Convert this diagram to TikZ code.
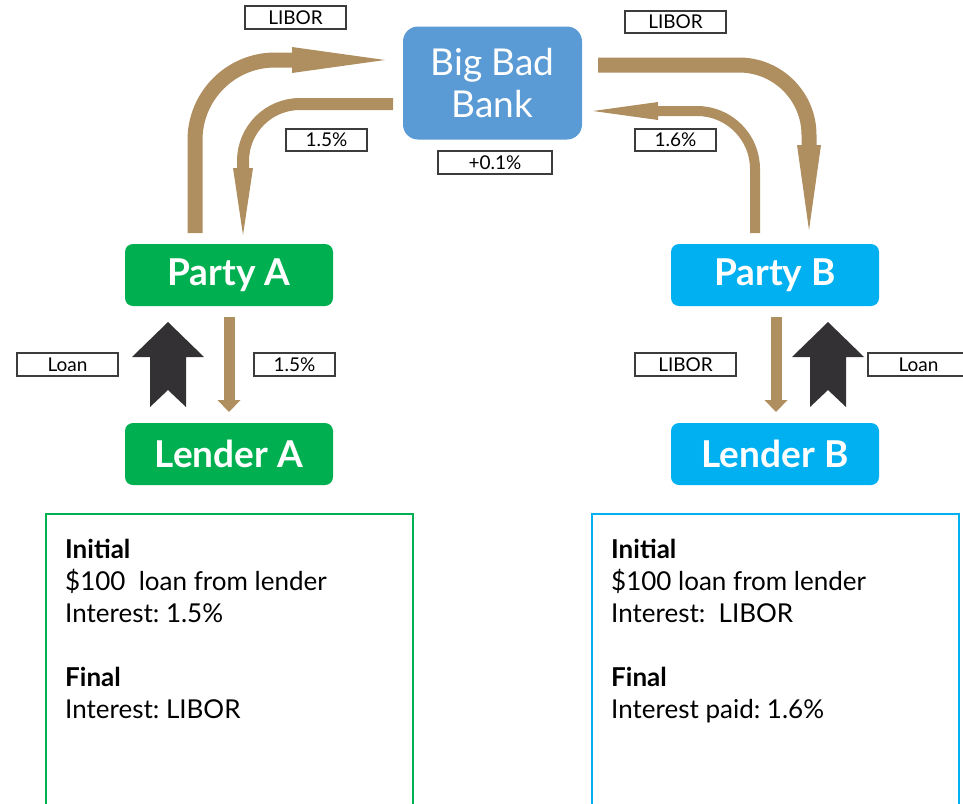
\documentclass[tikz,border=0pt]{standalone}
\usepackage{fontspec}
\setmainfont{Lato}
\frenchspacing
\usetikzlibrary{calc}
\definecolor{brn}{RGB}{175,142,96}
\definecolor{grn}{RGB}{0,176,80}
\definecolor{lblue}{RGB}{0,176,240}
\definecolor{bblue}{RGB}{91,155,213}
\definecolor{dark}{RGB}{51,49,52}
\definecolor{lblborder}{RGB}{60,60,60}
\tikzset{
  pbox/.style={rounded corners=8pt, minimum width=208pt, minimum height=62pt, text=white,
    font=\fontsize{37}{42}\selectfont\bfseries, inner sep=0pt},
  bankbox/.style={rounded corners=15pt, minimum width=179pt, minimum height=113pt, text=white,
    fill=bblue, font=\fontsize{37}{42}\selectfont, align=center, inner sep=0pt},
  lbl/.style={draw=lblborder, line width=1.3pt, fill=white, minimum height=22pt, inner sep=0pt,
    font=\fontsize{19}{22}\selectfont},
  flow/.style={draw=brn, line width=#1},
  head/.style={fill=brn},
  infotext/.style={anchor=base west, align=left, inner sep=0pt,
    font=\fontsize{26}{32}\selectfont},
  loanarrow/.style={fill=dark}
}
\begin{document}
\begin{tikzpicture}[x=1pt,y=-1pt]
\useasboundingbox (0,0) rectangle (963,803);

% main nodes
\node[bankbox] (bank) at (492.5,83) {Big Bad\\Bank};
\node[pbox, fill=grn] (pa) at (229,275) {Party A};
\node[pbox, fill=grn] (la) at (229,454) {Lender A};
\node[pbox, fill=lblue] (pb) at (775,275) {Party B};
\node[pbox, fill=lblue] (lb) at (775,454) {Lender B};

% curved flow: Party A -> Bank (LIBOR)
\coordinate (a1s) at (195,233);
\coordinate (a1b) at (292,60);
\coordinate (a1t) at (385,60);
\draw[flow=15pt, rounded corners=80pt] (a1s) -- (a1s |- a1b) -- ($(a1b)+(2,0)$);
\fill[head] ($(a1b)+(0,-13)$) -- (a1t) -- ($(a1b)+(0,13)$) -- cycle;

% Bank -> Party A (1.5%)
\coordinate (a2s) at (393,104);
\coordinate (a2b) at (243,168);
\coordinate (a2t) at (243,235);
\draw[flow=12pt, rounded corners=57pt] (a2s) -- (a2s -| a2b) -- ($(a2b)+(0,2)$);
\fill[head] ($(a2b)+(-10,0)$) -- (a2t) -- ($(a2b)+(10,0)$) -- cycle;

% Bank -> Party B (LIBOR)
\coordinate (a3s) at (598,65);
\coordinate (a3b) at (809,145);
\coordinate (a3t) at (809,230);
\draw[flow=15pt, rounded corners=70pt] (a3s) -- (a3s -| a3b) -- ($(a3b)+(0,2)$);
\fill[head] ($(a3b)+(-12,0)$) -- (a3t) -- ($(a3b)+(12,0)$) -- cycle;

% Party B -> Bank (1.6%)
\coordinate (a4s) at (755,233);
\coordinate (a4b) at (658,111);
\coordinate (a4t) at (593,111);
\draw[flow=10pt, rounded corners=58pt] (a4s) -- (a4s |- a4b) -- ($(a4b)+(-2,0)$);
\fill[head] ($(a4b)+(0,-9)$) -- (a4t) -- ($(a4b)+(0,9)$) -- cycle;

% interest down arrows
\coordinate (d1s) at (229,317);
\coordinate (d1b) at (229,400);
\coordinate (d1t) at (229,412);
\draw[flow=11pt] (d1s) -- ($(d1b)+(0,1)$);
\fill[head] ($(d1b)+(-11.5,0)$) -- (d1t) -- ($(d1b)+(11.5,0)$) -- cycle;
\coordinate (d2s) at (776,317);
\coordinate (d2b) at (776,400);
\coordinate (d2t) at (776,412);
\draw[flow=11pt] (d2s) -- ($(d2b)+(0,1)$);
\fill[head] ($(d2b)+(-11.5,0)$) -- (d2t) -- ($(d2b)+(11.5,0)$) -- cycle;

% loan arrows
\fill[loanarrow] (168,322) -- (204,357) -- (186,357) -- (186,407) -- (168,390)
  -- (150,407) -- (150,357) -- (132,357) -- cycle;
\fill[loanarrow] (828,322) -- (864,357) -- (846,357) -- (846,407) -- (828,390)
  -- (810,407) -- (810,357) -- (792,357) -- cycle;

% labels
\node[lbl, minimum width=101pt, minimum height=23pt] (l1) at (295.5,17.5) {LIBOR};
\node[lbl, minimum width=101pt] (l2) at (675.5,22) {LIBOR};
\node[lbl, minimum width=81pt] (l3) at (326.5,140) {1.5\%};
\node[lbl, minimum width=114pt, minimum height=23pt] (l4) at (495,162.5) {+0.1\%};
\node[lbl, minimum width=81pt] (l5) at (675.5,140) {1.6\%};
\node[lbl, minimum width=101pt, minimum height=23pt] (l6) at (67.5,364.5) {Loan};
\node[lbl, minimum width=81pt, minimum height=23pt] (l7) at (294.5,364.5) {1.5\%};
\node[lbl, minimum width=101pt, minimum height=23pt] (l8) at (685.5,364.5) {LIBOR};
\node[lbl, minimum width=101pt, minimum height=23pt] (l9) at (918.5,364.5) {Loan};

% info boxes
\draw[grn, line width=1.8pt] (46,820) -- (46,514) -- (413,514) -- (413,820);
\draw[lblue, line width=1.8pt] (592,820) -- (592,514) -- (959,514) -- (959,820);

\node[infotext] (ia) at (65,718) {\textbf{Initial}\\\$100\ \ loan from lender\\Interest: 1.5\%\\[32pt]\textbf{Final}\\Interest: LIBOR};
\node[infotext] (ib) at (611,718) {\textbf{Initial}\\\$100 loan from lender\\Interest:\ \ LIBOR\\[32pt]\textbf{Final}\\Interest paid: 1.6\%};
\end{tikzpicture}
\end{document}
